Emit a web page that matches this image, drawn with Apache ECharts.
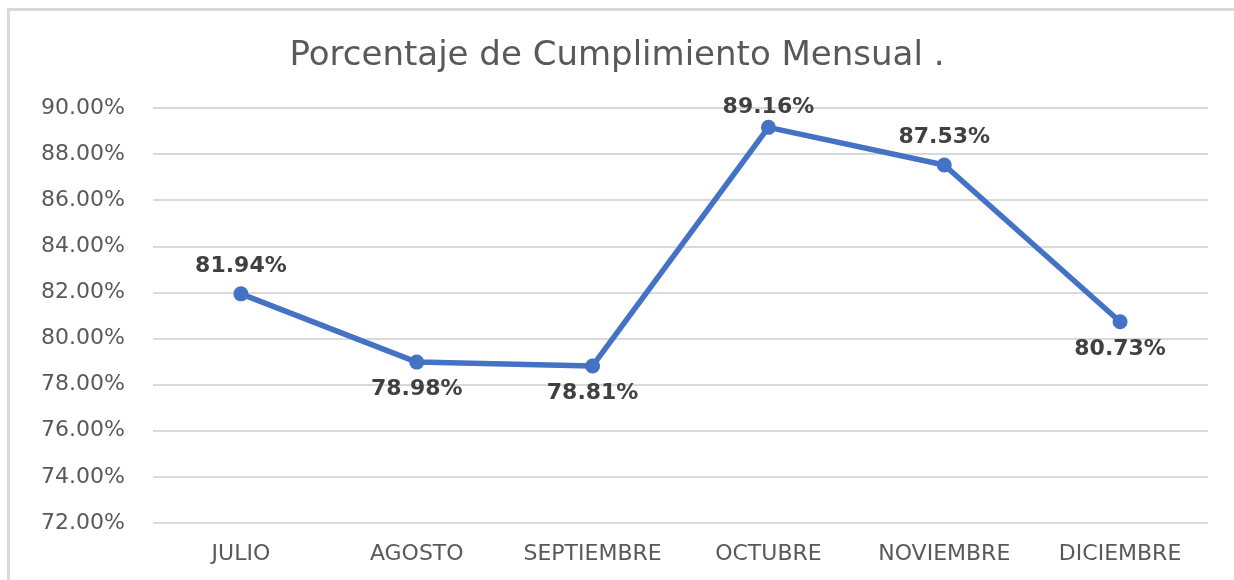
<!DOCTYPE html>
<html>
<head>
<meta charset="utf-8">
<script src="https://cdn.jsdelivr.net/npm/echarts@6/dist/echarts.min.js"></script>
<style>
  html, body { margin: 0; padding: 0; background: #fff; overflow: hidden; }
  #frame { position: absolute; left: 7px; top: 8px; width: 1240px; height: 600px;
           border-left: 3px solid #d9d9d9; border-top: 3px solid #d9d9d9; }
  #chart { position: absolute; left: 0; top: 0; width: 1234px; height: 580px; }
</style>
</head>
<body>
<div id="frame"></div>
<div id="chart"></div>
<script>
// meses y porcentajes
var months = ['JULIO', 'AGOSTO', 'SEPTIEMBRE', 'OCTUBRE', 'NOVIEMBRE', 'DICIEMBRE'];
var values = [81.94, 78.98, 78.81, 89.16, 87.53, 80.73];

// etiquetas arriba o abajo del punto, como en el original
var labelPos = ['top', 'bottom', 'bottom', 'top', 'top', 'bottom'];

var chart = echarts.init(document.getElementById('chart'));

var points = [];
for (var i = 0; i < values.length; i++) {
    var lbl = { position: labelPos[i] };
    if (months[i] == 'OCTUBRE') lbl.distance = 2;   // pegada al borde superior
    points.push({ value: values[i], label: lbl });
}

var option = {
    animation: false,
    title: {
        text: 'Porcentaje de Cumplimiento Mensual .',
        left: 'center',
        top: 34,
        textStyle: {
            fontFamily: 'DejaVu Sans',
            fontSize: 34,
            fontWeight: 'normal',
            color: '#595959'
        }
    },
    grid: { left: 153, right: 26, top: 108, bottom: 57 },
    xAxis: {
        type: 'category',
        data: months,
        axisLine: { show: false },
        axisTick: { show: false },
        axisLabel: {
            interval: 0,
            margin: 20,
            fontFamily: 'DejaVu Sans',
            fontSize: 22,
            color: '#595959'
        }
    },
    yAxis: {
        type: 'value',
        min: 72,
        max: 90,
        interval: 2,
        axisLine: { show: false },
        axisTick: { show: false },
        axisLabel: {
            margin: 28,
            fontFamily: 'DejaVu Sans',
            fontSize: 22,
            color: '#595959',
            formatter: function (v) { return v.toFixed(2) + '%'; }
        },
        splitLine: { lineStyle: { color: '#d9d9d9', width: 2 } }
    },
    series: [{
        type: 'line',
        data: points,
        symbol: 'circle',
        symbolSize: 15,
        lineStyle: { color: '#4472c4', width: 5.5 },
        itemStyle: { color: '#4472c4' },
        label: {
            show: true,
            distance: 9,
            fontFamily: 'DejaVu Sans',
            fontSize: 22,
            fontWeight: 'bold',
            color: '#404040',
            formatter: function (p) { return p.value.toFixed(2) + '%'; }
        }
    }]
};

chart.setOption(option);
</script>
</body>
</html>
